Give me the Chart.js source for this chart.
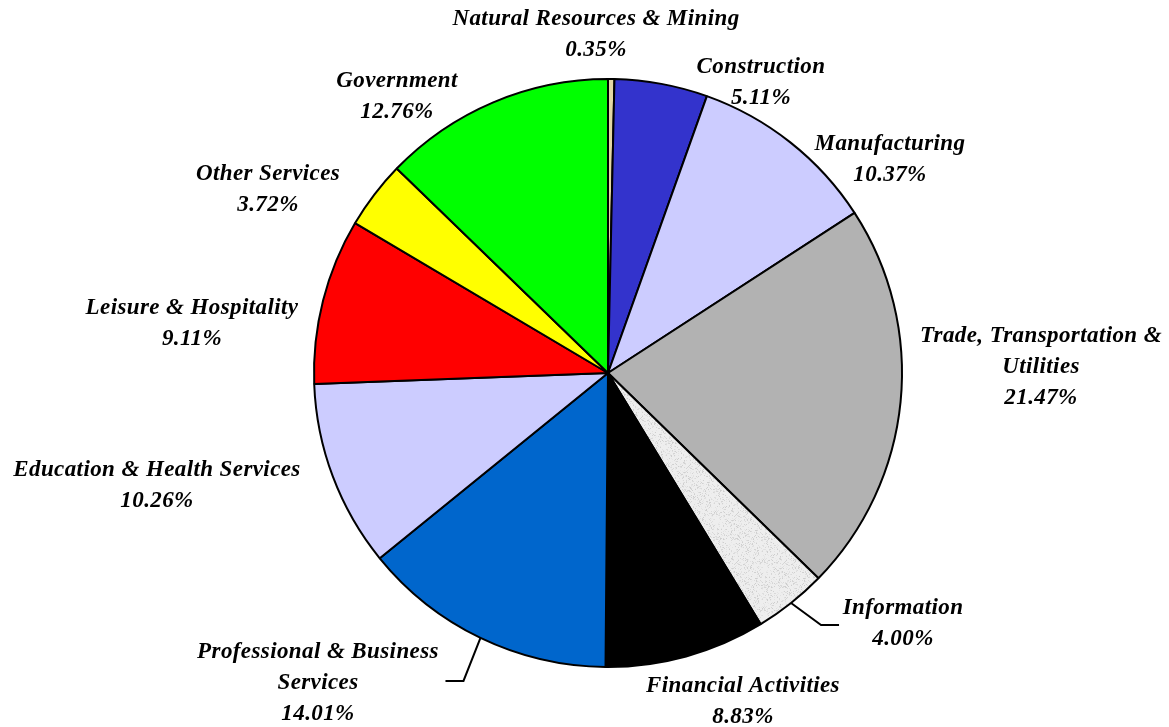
<!DOCTYPE html>
<html>
<head>
<meta charset="utf-8">
<script src="https://cdn.jsdelivr.net/npm/chart.js@4.4.1/dist/chart.umd.min.js"></script>
<style>
  html, body { margin: 0; padding: 0; background: #fff; }
  #wrap { width: 1169px; height: 727px; position: relative; }
</style>
</head>
<body>
<div id="wrap"><canvas id="pie"></canvas></div>
<script>
// Employment share by industry, clockwise from 12 o'clock
const industries = [
  ['Natural Resources & Mining'],
  ['Construction'],
  ['Manufacturing'],
  ['Trade, Transportation &', 'Utilities'],
  ['Information'],
  ['Financial Activities'],
  ['Professional & Business', 'Services'],
  ['Education & Health Services'],
  ['Leisure & Hospitality'],
  ['Other Services'],
  ['Government']
];
const shares = [0.35, 5.11, 10.37, 21.47, 4.00, 8.83, 14.01, 10.26, 9.11, 3.72, 12.76];

// label block centres, relative to the pie centre (px)
const labelOffsets = [
  [-12, -338], [153, -290], [282, -213], [433, -6], [295, 251], [135, 329],
  [-290, 310], [-451, 113], [-416, -49], [-340, -183], [-211, -276]
];
// leader lines: [elbow dx, elbow dy, end dx] from the arc edge
const leaders = { 4: [30, 22, 18], 6: [-17, 43, -18] };

function speckle() {
  const c = document.createElement('canvas');
  c.width = 48; c.height = 48;
  const g = c.getContext('2d');
  g.fillStyle = '#eeeeee';
  g.fillRect(0, 0, 48, 48);
  for (let y = 0; y < 48; y++) {
    for (let x = 0; x < 48; x++) {
      const h = Math.sin(x * 12.9898 + y * 78.233) * 43758.5453;
      const v = h - Math.floor(h);
      if (v > 0.72) {
        const s = 205 + Math.floor((v - 0.72) * 120);
        g.fillStyle = `rgb(${s},${s},${s})`;
        g.fillRect(x, y, 1, 1);
      }
    }
  }
  return g.createPattern(c, 'repeat');
}

const COLORS = ['#e4d7a6', '#3333cc', '#ccccff', '#b2b2b2', speckle(), '#000000',
  '#0066cc', '#ccccff', '#ff0000', '#ffff00', '#00ff00'];

const pieLabels = {
  id: 'pieLabels',
  afterDatasetsDraw(chart) {
    const ctx = chart.ctx;
    const arcs = chart.getDatasetMeta(0).data;
    ctx.save();
    ctx.font = 'italic bold 23px "Liberation Serif", "Times New Roman", serif';
    ctx.letterSpacing = '0.4px';
    ctx.fillStyle = '#000';
    ctx.textAlign = 'center';
    ctx.textBaseline = 'middle';
    arcs.forEach((arc, i) => {
      const cx = arc.x, cy = arc.y;
      const lines = industries[i].concat([shares[i].toFixed(2) + '%']);
      const [dx, dy] = labelOffsets[i];
      const top = cy + dy - (lines.length - 1) * 31 / 2;
      lines.forEach((t, k) => ctx.fillText(t, cx + dx, top + k * 31));
      if (leaders[i]) {
        const mid = (arc.startAngle + arc.endAngle) / 2;
        const ex = cx + Math.cos(mid) * arc.outerRadius;
        const ey = cy + Math.sin(mid) * arc.outerRadius;
        const [bx, by, hx] = leaders[i];
        ctx.beginPath();
        ctx.lineWidth = 2;
        ctx.strokeStyle = '#000';
        ctx.moveTo(ex, ey);
        ctx.lineTo(ex + bx, ey + by);
        ctx.lineTo(ex + bx + hx, ey + by);
        ctx.stroke();
      }
    });
    ctx.restore();
  }
};

new Chart(document.getElementById('pie'), {
  type: 'pie',
  data: {
    labels: industries.map(l => l.join(' ')),
    datasets: [{
      data: shares,
      backgroundColor: COLORS,
      borderColor: '#000',
      borderWidth: 2,
      borderAlign: 'center'
    }]
  },
  options: {
    responsive: true,
    maintainAspectRatio: false,
    animation: false,
    layout: { padding: { top: 78, bottom: 59, left: 313, right: 266 } },
    plugins: { legend: { display: false }, tooltip: { enabled: false } }
  },
  plugins: [pieLabels]
});
</script>
</body>
</html>
